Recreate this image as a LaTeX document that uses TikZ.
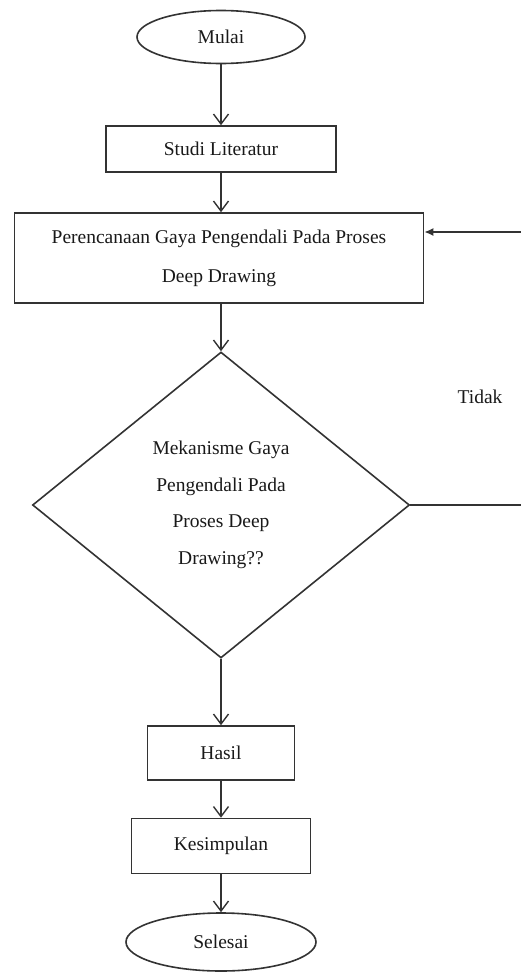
\documentclass[tikz,border=0pt]{standalone}
\usepackage{fontspec}
\setmainfont{Liberation Serif}
\usetikzlibrary{shapes.geometric,arrows.meta}
\begin{document}
\begin{tikzpicture}[x=1pt,y=-1pt,
  every node/.style={font=\fontsize{19.5}{24}\selectfont, text=black!90},
  line/.style={draw=black!80, line width=1.6pt},
  arr/.style={line, -{Straight Barb[length=10pt,width=15pt,line width=1.4pt]}},
  term/.style={ellipse, line, inner sep=0pt},
  proc/.style={rectangle, line, inner sep=0pt, align=center},
  dec/.style={diamond, line, inner sep=0pt, align=center}]
\useasboundingbox (0,0) rectangle (521,980);
\node[term, minimum width=168pt, minimum height=53pt] (mulai) at (221,37) {Mulai};
\node[proc, minimum width=230pt, minimum height=46pt] (studi) at (221,149) {Studi Literatur};
\node[proc, minimum width=409pt, minimum height=90pt, font=\fontsize{19.5}{39}\selectfont] (peren) at (219,258) {\raisebox{3pt}{\parbox{400pt}{\centering Perencanaan Gaya Pengendali Pada Proses\\Deep Drawing}}};
\node[dec, minimum width=377pt, minimum height=306pt, font=\fontsize{19.5}{36.5}\selectfont] (dec) at (221,505) {Mekanisme Gaya\\Pengendali Pada\\Proses Deep\\Drawing??};
\node (tidak) at (480,397) {Tidak};
\node[proc, minimum width=147pt, minimum height=54pt] (hasil) at (221,753) {Hasil};
\node[proc, minimum width=179pt, minimum height=55pt] (kes) at (221,846) {Kesimpulan};
\node[term, minimum width=190pt, minimum height=58pt] (selesai) at (221,942) {Selesai};
\coordinate (r1) at (521,505);
\coordinate (r2) at (521,232);
\draw[arr] (mulai) -- (studi);
\draw[arr] (studi) -- (peren.north -| studi);
\draw[arr] (peren.south -| dec) -- (dec);
\draw[arr] (dec) -- (hasil);
\draw[arr] (hasil) -- (kes);
\draw[arr] (kes) -- (selesai);
\draw[line] (dec.east) -- (r1);
\draw[line, -{Latex[length=9pt,width=8pt]}] (r2) -- (peren.east |- r2);
\end{tikzpicture}
\end{document}
